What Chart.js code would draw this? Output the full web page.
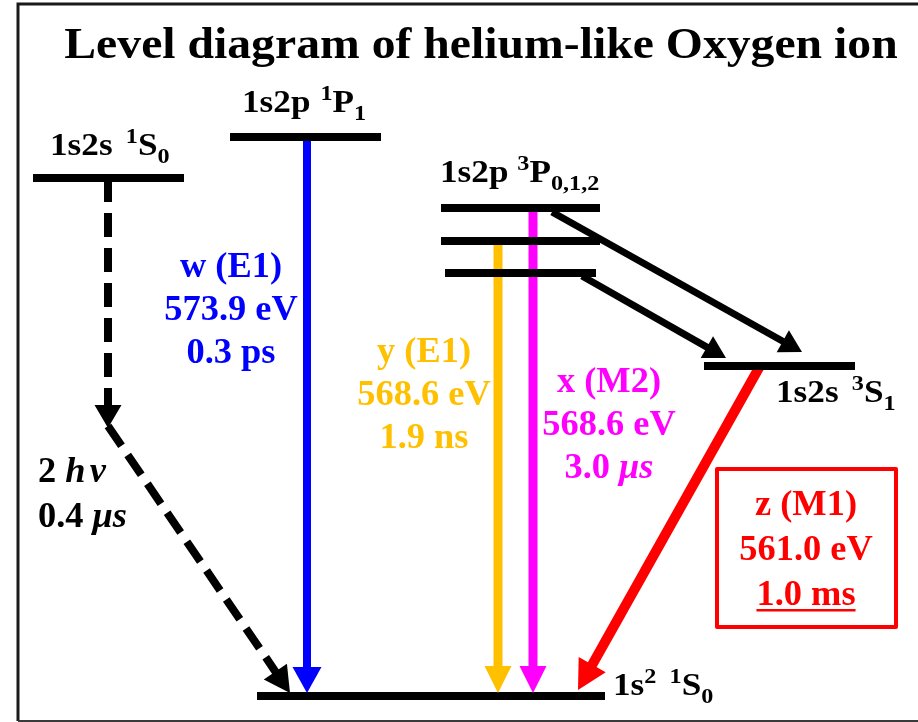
<!DOCTYPE html>
<html>
<head>
<meta charset="utf-8">
<script src="https://cdn.jsdelivr.net/npm/chart.js@4/dist/chart.umd.min.js"></script>
<style>
  html, body { margin: 0; padding: 0; background: #fff; }
  #wrap { width: 918px; height: 722px; }
</style>
</head>
<body>
<div id="wrap"><canvas id="c" width="918" height="722"></canvas></div>
<script>
// ---- Spectroscopic data -------------------------------------------------
const transitionNames = ['w (E1)', 'y (E1)', 'x (M2)', 'z (M1)'];
const transitionEnergiesEV = [573.9, 568.6, 568.6, 561.0];
const transitionLifetimes = ['0.3 ps', '1.9 ns', '3.0 \u03BCs', '1.0 ms'];
const twoPhotonLifetime = '0.4 \u03BCs';

// ---- Diagram geometry (schematic units: x across, h = height from bottom) ----
// levels: 1s2s 1S0, 1s2p 1P1, 1s2p 3P2, 3P1, 3P0, 1s2s 3S1, ground 1s2 1S0
const levelX0 = [33, 230, 441, 441, 445, 704, 257];
const levelX1 = [184, 381, 600, 600, 596, 855, 605];
const levelH  = [544, 585, 514, 481, 449, 356, 26];

// arrows: w, y, x, z, 3P2->3S1, 3P0->3S1, 2-photon (two legs)
const arrowX0 = [307, 498, 533, 760, 552, 582, 108, 108];
const arrowH0 = [585, 481, 514, 356, 510, 446, 544, 296];
const arrowX1 = [307, 498, 533, 578, 802, 726, 108, 290];
const arrowH1 = [29, 29, 29, 32, 370, 364, 294, 29];

const arrowColor = ['#0000FF', '#FFC000', '#FF00FF', '#FF0000', '#000000', '#000000', '#000000', '#000000'];
const arrowWidth = [8, 9, 9, 10, 7, 7, 8, 8];
const arrowDash  = [[], [], [], [], [], [], [24, 11], [24, 11]];
const headLen    = [26, 27, 27, 29, 22, 22, 23, 26];
const headWid    = [29, 27, 27, 31, 25, 25, 27, 28];

const SERIF = '"Liberation Serif", "Times New Roman", serif';

// ---- Datasets ---------------------------------------------------------
const datasets = [];
levelH.forEach((h, i) => {
  datasets.push({
    kind: 'level',
    data: [{ x: levelX0[i], y: h }, { x: levelX1[i], y: h }],
    showLine: true, borderColor: '#000', borderWidth: 8,
    borderCapStyle: 'butt', pointRadius: 0, fill: false
  });
});
arrowX0.forEach((x0, i) => {
  datasets.push({
    kind: 'arrow', arrowIndex: i,
    data: [{ x: x0, y: arrowH0[i] }, { x: arrowX1[i], y: arrowH1[i] }],
    showLine: true, borderColor: arrowColor[i], borderWidth: arrowWidth[i],
    borderDash: arrowDash[i], borderCapStyle: 'butt', pointRadius: 0, fill: false
  });
});

// Arrowheads: pull the shaft end back to the base of the head, then fill the head
const arrowHeads = {
  id: 'arrowHeads',
  beforeDatasetsDraw(chart) {
    const xs = chart.scales.x, ys = chart.scales.y;
    chart.data.datasets.forEach((ds, di) => {
      if (ds.kind !== 'arrow') return;
      const meta = chart.getDatasetMeta(di);
      const a = ds.arrowIndex;
      const sx = xs.getPixelForValue(ds.data[0].x), sy = ys.getPixelForValue(ds.data[0].y);
      const tx = xs.getPixelForValue(ds.data[1].x), ty = ys.getPixelForValue(ds.data[1].y);
      const L = Math.hypot(tx - sx, ty - sy), ux = (tx - sx) / L, uy = (ty - sy) / L;
      meta.data[1].x = tx - ux * (headLen[a] - 2);
      meta.data[1].y = ty - uy * (headLen[a] - 2);
      ds._tip = { tx, ty, ux, uy };
    });
  },
  afterDatasetsDraw(chart) {
    const ctx = chart.ctx;
    chart.data.datasets.forEach((ds) => {
      if (ds.kind !== 'arrow' || !ds._tip) return;
      const a = ds.arrowIndex, { tx, ty, ux, uy } = ds._tip;
      const bx = tx - ux * headLen[a], by = ty - uy * headLen[a];
      const px = -uy * headWid[a] / 2, py = ux * headWid[a] / 2;
      ctx.save();
      ctx.fillStyle = arrowColor[a];
      ctx.beginPath();
      ctx.moveTo(tx, ty);
      ctx.lineTo(bx + px, by + py);
      ctx.lineTo(bx - px, by - py);
      ctx.closePath();
      ctx.fill();
      ctx.restore();
    });
  }
};

// ---- Text ----------------------------------------------------------------
function fontOf(run, base) {
  const size = run.small ? Math.round(base * 0.7) : base;
  return (run.italic ? 'italic ' : '') + 'bold ' + size + 'px ' + SERIF;
}
// draws a run of mixed text (super/subscripts, italics) with a horizontal stretch sx
function drawRich(ctx, runs, x, y, align, base, color, sx) {
  sx = sx || 1;
  const parts = runs.map(r => {
    ctx.font = fontOf(r, base);
    return { r, w: ctx.measureText(r.t).width };
  });
  const total = parts.reduce((s, p) => s + p.w + (p.r.gap || 0), 0) * sx;
  const left = align === 'center' ? x - total / 2 : x;
  ctx.save();
  ctx.translate(left, y);
  ctx.scale(sx, 1);
  ctx.fillStyle = color;
  ctx.textAlign = 'left';
  ctx.textBaseline = 'alphabetic';
  let cx = 0;
  parts.forEach(p => {
    ctx.font = fontOf(p.r, base);
    ctx.fillText(p.r.t, cx, (p.r.dy || 0) * base);
    cx += p.w + (p.r.gap || 0);
  });
  ctx.restore();
  return { left, right: left + total };
}
const sup = t => ({ t, small: true, dy: -0.36 });
const sub = t => ({ t, small: true, dy: 0.26 });

const levelLabels = [
  { runs: [{ t: '1s2s', gap: 12 }, sup('1'), { t: 'S' }, sub('0')], x: 50, h: 567 },
  { runs: [{ t: '1s2p', gap: 9 }, sup('1'), { t: 'P' }, sub('1')], x: 242, h: 610 },
  { runs: [{ t: '1s2p', gap: 8 }, sup('3'), { t: 'P' }, sub('0,1,2')], x: 440, h: 540 },
  { runs: [{ t: '1s2s', gap: 12 }, sup('3'), { t: 'S' }, sub('1')], x: 776, h: 320 },
  { runs: [{ t: '1s' }, sup('2'), { t: '', gap: 12 }, sup('1'), { t: 'S' }, sub('0')], x: 613, h: 27 }
];

// transition label blocks: centre x, first baseline, line step
const labelX = [231, 424, 609, 806];
const labelH = [445, 360, 330, 207];
const labelStep = 43;

function lifetimeRuns(s) {
  const m = s.indexOf('\u03BC');
  if (m < 0) return [{ t: s }];
  return [{ t: s.slice(0, m) }, { t: s.slice(m), italic: true }];
}

const textPlugin = {
  id: 'diagramText',
  afterDraw(chart) {
    const ctx = chart.ctx, xs = chart.scales.x, ys = chart.scales.y;
    const X = v => xs.getPixelForValue(v), Y = v => ys.getPixelForValue(v);
    ctx.save();

    // frame
    ctx.strokeStyle = '#1a1a1a';
    ctx.lineWidth = 3;
    ctx.beginPath();
    ctx.moveTo(X(918), Y(718)); ctx.lineTo(X(18), Y(718)); ctx.lineTo(X(18), Y(1));
    ctx.stroke();
    ctx.strokeStyle = '#3a3a3a';
    ctx.lineWidth = 2;
    ctx.beginPath(); ctx.moveTo(X(18), Y(1)); ctx.lineTo(X(918), Y(1)); ctx.stroke();

    // title
    drawRich(ctx, [{ t: 'Level diagram of helium-like Oxygen ion' }], X(481), Y(664), 'center', 45, '#000', 1.06);

    // level names
    levelLabels.forEach(l => drawRich(ctx, l.runs, X(l.x), Y(l.h), 'left', 32, '#000', 1.1));

    // transition blocks
    transitionNames.forEach((name, i) => {
      const lines = [
        [{ t: name }],
        [{ t: transitionEnergiesEV[i].toFixed(1) + ' eV' }],
        lifetimeRuns(transitionLifetimes[i])
      ];
      lines.forEach((runs, k) => {
        const step = i === 3 ? labelStep + 2 : labelStep;
        const yb = Y(labelH[i] - k * step);
        const r = drawRich(ctx, runs, X(labelX[i]), yb, 'center', 35, arrowColor[i], 1.04);
        if (i === 3 && k === 2) {
          ctx.fillStyle = arrowColor[i];
          ctx.fillRect(r.left, yb + 4, r.right - r.left, 2.5);
        }
      });
    });

    // two-photon decay note
    drawRich(ctx, [{ t: '2 ' }, { t: 'h', italic: true, gap: 4 }, { t: '\u03BD', italic: true }], X(38), Y(240), 'left', 35, '#000', 1.04);
    drawRich(ctx, lifetimeRuns(twoPhotonLifetime), X(38), Y(195), 'left', 35, '#000', 1.04);

    // box around the z line data
    ctx.strokeStyle = arrowColor[3];
    ctx.lineWidth = 4;
    ctx.lineJoin = 'round';
    ctx.strokeRect(X(717), Y(253), X(896) - X(717), Y(95) - Y(253));
    ctx.restore();
  }
};

new Chart(document.getElementById('c'), {
  type: 'scatter',
  data: { datasets },
  options: {
    responsive: false,
    devicePixelRatio: 1,
    animation: false,
    events: [],
    layout: { padding: 0 },
    plugins: { legend: { display: false }, tooltip: { enabled: false }, title: { display: false } },
    scales: {
      x: { type: 'linear', min: 0, max: 918, display: false },
      y: { type: 'linear', min: 0, max: 722, display: false }
    }
  },
  plugins: [arrowHeads, textPlugin]
});
</script>
</body>
</html>
